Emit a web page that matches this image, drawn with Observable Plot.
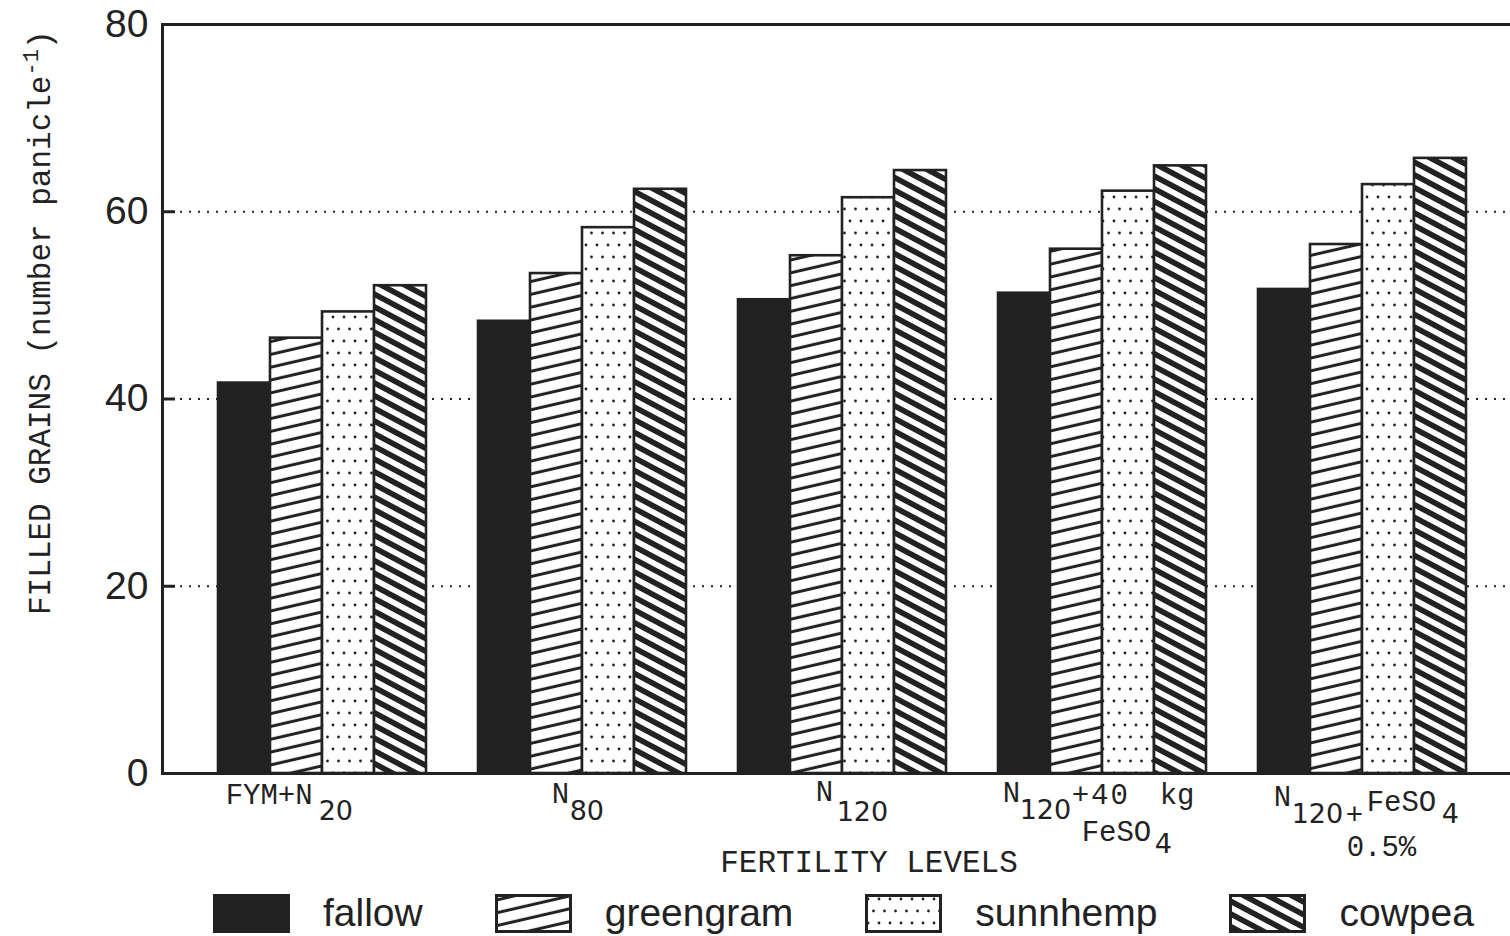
<!DOCTYPE html>
<html><head><meta charset="utf-8">
<script src="https://cdn.jsdelivr.net/npm/d3@7"></script>
<script src="https://cdn.jsdelivr.net/npm/@observablehq/plot@0.6"></script>
<style>
html,body{margin:0;padding:0;background:#fff;overflow:hidden;}
#chart svg{max-width:none !important;}
#legend{display:flex;align-items:center;margin-top:11px;padding-left:213px;font-family:"Liberation Sans";font-size:39px;color:#222;}
.item{display:flex;align-items:center;margin-right:72px}
.item svg{margin-right:33px;display:block}
</style></head><body>
<svg width="0" height="0" style="position:absolute"><defs>
  <pattern id="pGreen" patternUnits="userSpaceOnUse" width="12" height="12.5" patternTransform="rotate(-13)">
    <rect width="12" height="12.5" fill="#fff"/>
    <rect y="4.7" width="12" height="3" fill="#222"/>
  </pattern>
  <pattern id="pCow" patternUnits="userSpaceOnUse" width="12" height="11.2" patternTransform="rotate(28)">
    <rect width="12" height="11.2" fill="#fff"/>
    <rect y="2.8" width="12" height="5.6" fill="#222"/>
  </pattern>
  <pattern id="pSunn" patternUnits="userSpaceOnUse" width="11" height="24">
    <rect width="11" height="24" fill="#fff"/>
    <circle cx="3" cy="5" r="1.4" fill="#222"/>
    <circle cx="8.5" cy="17" r="1.4" fill="#222"/>
  </pattern>
</defs></svg>
<div id="chart"></div>
<div id="legend"></div>
<script>
// ---- data ----
const levels = ["FYM+N20", "N80", "N120", "N120+40 kg FeSO4", "N120+FeSO4 0.5%"];
const crops = ["fallow", "greengram", "sunnhemp", "cowpea"];
const fallow    = [41.7, 48.3, 50.6, 51.3, 51.7];
const greengram = [46.5, 53.4, 55.3, 56.0, 56.5];
const sunnhemp  = [49.3, 58.3, 61.5, 62.2, 62.9];
const cowpea    = [52.1, 62.4, 64.4, 64.9, 65.7];
const yTicks = [0, 20, 40, 60, 80];
const gridValues = [20, 40, 60];
const yTitle = "FILLED GRAINS (number panicle-1)";
const xTitle = "FERTILITY LEVELS";

// ---- styling / layout ----
const series = {fallow, greengram, sunnhemp, cowpea};
const fills = {fallow: "#222", greengram: "url(#pGreen)", sunnhemp: "url(#pSunn)", cowpea: "url(#pCow)"};
const MONO = "Liberation Mono", SANS = "DejaVu Sans";
const W = 1540, ML = 162, MR = 19, H = 880, MT = 24, MB = 107;

// composite band domain: outer pad, 4 bars per level, one spacer band between levels
const domain = ["pad-l"];
levels.forEach((lv, i) => {
  if (i > 0) domain.push("gap-" + i);
  crops.forEach(c => domain.push(lv + "|" + c));
});
domain.push("pad-r");
const bw = (W - ML - MR) / domain.length;

const rows = levels.flatMap((lv, i) => crops.map(c => ({level: lv, crop: c, key: lv + "|" + c, value: series[c][i]})));

const chart = Plot.plot({
  width: W, height: H,
  marginLeft: ML, marginRight: MR, marginTop: MT, marginBottom: MB,
  style: {color: "#222", background: "#fff", overflow: "visible"},
  x: {type: "band", domain, padding: 0, axis: null},
  y: {domain: [0, 80], axis: null},
  color: {type: "identity"},
  marks: [
    Plot.ruleY(gridValues, {stroke: "#222", strokeWidth: 2.2, strokeDasharray: "2,7"}),
    Plot.ruleY(gridValues, {stroke: "#222", strokeWidth: 3, strokeDasharray: "13,5000"}),
    Plot.barY(rows, {x: "key", y: "value", fill: d => fills[d.crop], stroke: "#222", strokeWidth: 2.6}),
    Plot.frame({stroke: "#222", strokeWidth: 3}),
    Plot.axisY(yTicks, {tickSize: 0, tickPadding: 14, fontSize: 39, fontFamily: "Liberation Sans", label: null}),
    Plot.text(levels, {x: lv => lv + "|greengram", text: d => d, frameAnchor: "bottom", dx: bw / 2, textAnchor: "start", lineAnchor: "bottom", fill: "#222", className: "xlab"}),
    Plot.text([xTitle], {text: d => d, frameAnchor: "bottom", dx: 27, dy: 98, lineAnchor: "bottom", fontFamily: MONO, fontSize: 31, fill: "#222"}),
    Plot.text([yTitle], {text: d => d, frameAnchor: "top-left", rotate: -90, textAnchor: "end", lineAnchor: "middle", dx: -122, dy: 6, fontFamily: MONO, fontSize: 31, fill: "#222", className: "ytitle"})
  ]
});
document.getElementById("chart").appendChild(chart);

// rich text (subscripts / superscripts) for the x labels
const ns = "http://www.w3.org/2000/svg";
const labelLayout = {
  "FYM+N20": {left: -97, parts: [["FYM+N", "m", 0, 30], ["20", "s", 93, 46]]},
  "N80": {left: -31, parts: [["N", "m", 0, 29], ["80", "s", 18, 46]]},
  "N120": {left: -27, parts: [["N", "m", 0, 27], ["120", "s", 21, 47]]},
  "N120+40 kg FeSO4": {left: -100, parts: [["N", "m", 0, 28], ["120", "s", 17, 45], ["+40", "m", 69, 30, 2], ["kg", "m", 157, 30], ["FeSO", "m", 79, 67], ["4", "s", 152, 79]]},
  "N120+FeSO4 0.5%": {left: -89, parts: [["N", "m", 0, 32], ["120", "s", 18, 49], ["+", "m", 72, 50], ["FeSO", "m", 93, 37], ["4", "s", 168, 49], ["0.5%", "m", 73, 82]]}
};
chart.querySelectorAll("g.xlab text").forEach(t => {
  const L = labelLayout[t.textContent];
  if (!L) return;
  const bx = +(t.getAttribute("x") || 0), by = +(t.getAttribute("y") || 0);
  t.removeAttribute("dy");
  t.textContent = "";
  L.parts.forEach(([s, f, x, y, ls]) => {
    const ts = document.createElementNS(ns, "tspan");
    ts.setAttribute("x", bx + L.left + x);
    ts.setAttribute("y", by + y);
    ts.setAttribute("font-family", f === "m" ? MONO : SANS);
    ts.setAttribute("font-size", f === "m" ? 29 : 27);
    if (ls) ts.setAttribute("letter-spacing", ls);
    ts.textContent = s;
    t.appendChild(ts);
  });
});
chart.querySelectorAll("g.ytitle text").forEach(t => {
  const txt = t.textContent;
  const m = txt.match(/^(.*)(-1)(\))$/);
  if (!m) return;
  t.textContent = "";
  const a = document.createElementNS(ns, "tspan"); a.textContent = m[1];
  const b = document.createElementNS(ns, "tspan"); b.textContent = m[2];
  b.setAttribute("dy", -12); b.setAttribute("font-size", 22);
  const c = document.createElementNS(ns, "tspan"); c.textContent = m[3];
  c.setAttribute("dy", 12);
  t.append(a, b, c);
});

// legend
const legend = d3.select("#legend");
crops.forEach(c => {
  const it = legend.append("div").attr("class", "item");
  const s = it.append("svg").attr("width", 77).attr("height", 39);
  s.append("rect").attr("x", 1.5).attr("y", 1.5).attr("width", 74).attr("height", 36)
    .attr("fill", fills[c]).attr("stroke", "#222").attr("stroke-width", 3);
  it.append("span").text(c);
});
</script>
</body></html>
